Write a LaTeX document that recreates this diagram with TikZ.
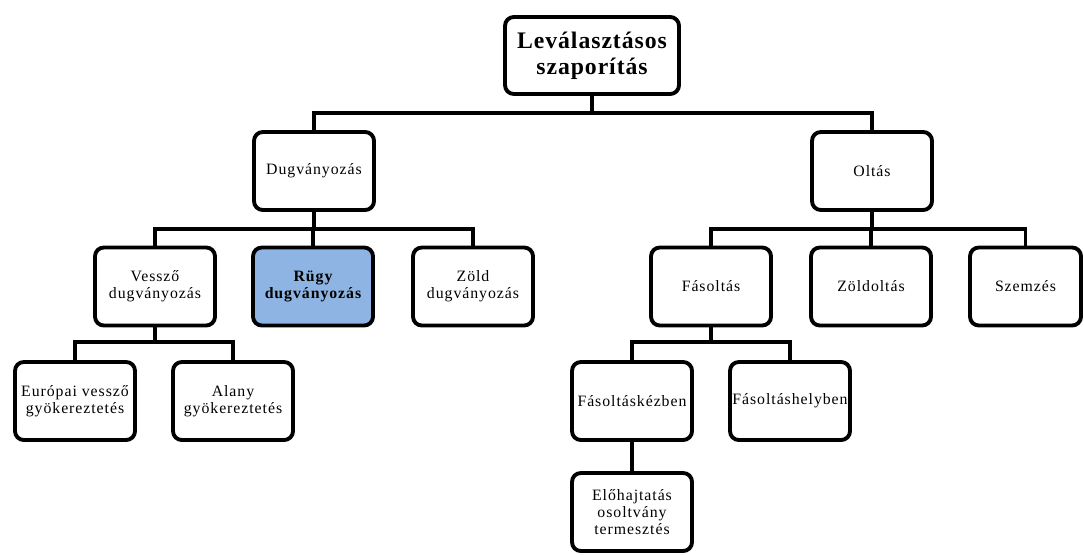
\documentclass[tikz,border=0pt]{standalone}
\usepackage{fontspec}
\setmainfont{Liberation Serif}
\newfontfamily\boxfont[LetterSpace=6]{Liberation Serif}
\newfontfamily\topfont[LetterSpace=4]{Liberation Serif}
\usepackage{xcolor}
\usepackage{tikz}
\definecolor{budblue}{RGB}{141,180,226}

\begin{document}
\begin{tikzpicture}[x=0.02cm, y=-0.02cm,
  box/.style={draw, line width=2.2pt, rounded corners=5pt, fill=white, minimum width=2.4cm, minimum height=1.56cm, align=center, inner sep=1pt, font=\boxfont\fontsize{9}{9.5}\selectfont},
  topbox/.style={box, minimum width=3.48cm, minimum height=1.54cm, font=\topfont\fontsize{13.5}{15}\selectfont\bfseries},
  link/.style={line width=2.2pt},
]
\useasboundingbox (0,0) rectangle (1084,554);
\node[topbox] (root) at (592,55.5) {Leválasztásos\\szaporítás};

\node[box] (dug) at (314,171) {Dugványozás};
\node[box] (olt) at (872,171) {Oltás};

\node[box] (vesszo) at (155,286.5) {Vessző\\dugványozás};
\node[box, fill=budblue, font=\boxfont\fontsize{9}{9.5}\selectfont\bfseries] (rugy) at (313,286.5) {Rügy\\dugványozás};
\node[box] (zoldd) at (473,286.5) {Zöld\\dugványozás};
\node[box] (fas) at (711,286.5) {Fásoltás};
\node[box] (zoldo) at (871,286.5) {Zöldoltás};
\node[box, minimum width=2.22cm] (szem) at (1025.5,286.5) {Szemzés};

\node[box] (europ) at (75,401) {Európai vessző\\gyökereztetés};
\node[box] (alany) at (233,401) {Alany\\gyökereztetés};
\node[box] (kez) at (632,401) {Fásoltáskézben};
\node[box] (hely) at (790,401) {Fásoltáshelyben};

\node[box] (eloh) at (632,512) {Előhajtatás\\osoltvány\\termesztés};

\draw[link] (root.south) -- ++(0,17) -| (dug.north);
\draw[link] (root.south) -- ++(0,17) -| (olt.north);
\foreach \c in {vesszo,rugy,zoldd}
  \draw[link] (dug.south) -- ++(0,17) -| (\c.north);
\foreach \c in {fas,zoldo,szem}
  \draw[link] (olt.south) -- ++(0,17) -| (\c.north);
\foreach \c in {europ,alany}
  \draw[link] (vesszo.south) -- ++(0,15) -| (\c.north);
\foreach \c in {kez,hely}
  \draw[link] (fas.south) -- ++(0,15) -| (\c.north);
\draw[link] (kez) -- (eloh);
\end{tikzpicture}
\end{document}
